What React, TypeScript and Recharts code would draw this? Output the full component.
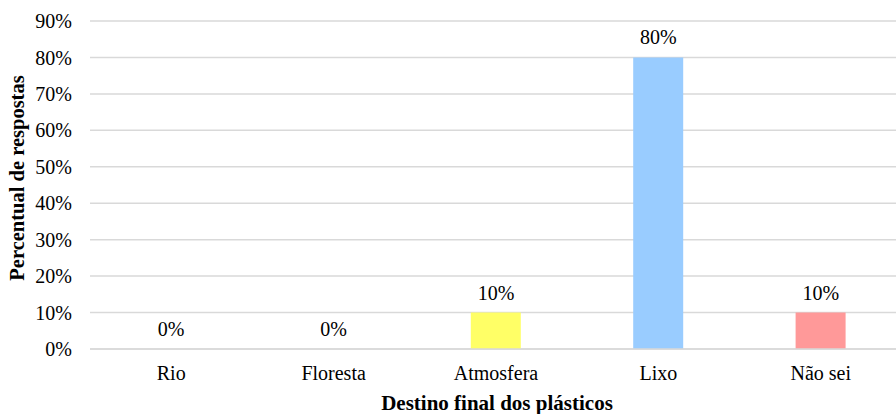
import React from 'react';
import { ComposedChart, Bar, Line, XAxis, YAxis, CartesianGrid, LabelList, Cell, Label } from 'recharts';

const categories = ['Rio', 'Floresta', 'Atmosfera', 'Lixo', 'Não sei'];
const percentValues = [0, 0, 10, 80, 10];
const yTicks = [0, 10, 20, 30, 40, 50, 60, 70, 80, 90];
const barColors = ['#99CCFF', '#99CCFF', '#FFFF66', '#99CCFF', '#FF9999'];

const data = categories.map((c, i) => ({ category: c, value: percentValues[i] }));

const FONT = 'Liberation Serif, Times New Roman, Times, serif';
const pct = (v: any) => `${v}%`;
const textStyle = { fill: '#000', fontSize: 20, fontFamily: FONT };

export default function App() {
  return (
    <div style={{ position: 'absolute', left: 0, top: 0, width: 896, height: 414, overflow: 'hidden', background: '#fff', fontFamily: FONT }}>
      <ComposedChart width={904} height={414} data={data} margin={{ top: 21, right: 2, bottom: 5, left: 0 }} style={{ fontFamily: FONT }}>
        <CartesianGrid vertical={false} stroke="#D9D9D9" strokeWidth={1.5} />
        <XAxis
          dataKey="category"
          axisLine={{ stroke: '#D9D9D9', strokeWidth: 1.5 }}
          tickLine={false}
          tickMargin={11}
          interval={0}
          height={60}
          tick={textStyle}
        >
          <Label
            value="Destino final dos plásticos"
            position="insideBottom"
            offset={-1}
            dx={1}
            fontFamily={FONT}
            fontWeight="bold"
            fontSize={21}
            fill="#000"
          />
        </XAxis>
        <YAxis
          width={90}
          domain={[0, 90]}
          ticks={yTicks}
          interval={0}
          axisLine={false}
          tickLine={false}
          tickMargin={12}
          tickFormatter={pct}
          tick={textStyle}
        >
          <Label
            content={() => (
              <text
                transform="translate(17, 178) rotate(-90)"
                textAnchor="middle"
                dominantBaseline="central"
                fontFamily={FONT}
                fontWeight="bold"
                fontSize={20.5}
                fill="#000"
              >
                Percentual de respostas
              </text>
            )}
          />
        </YAxis>
        <Bar dataKey="value" barSize={50} isAnimationActive={false}>
          {data.map((d, i) => (
            <Cell key={d.category} fill={barColors[i]} />
          ))}
        </Bar>
        <Line dataKey="value" stroke="none" dot={false} activeDot={false} legendType="none" isAnimationActive={false}>
          <LabelList
            dataKey="value"
            position="top"
            offset={13}
            formatter={pct}
            fill="#000"
            fontSize={20}
            fontFamily={FONT}
          />
        </Line>
      </ComposedChart>
    </div>
  );
}
